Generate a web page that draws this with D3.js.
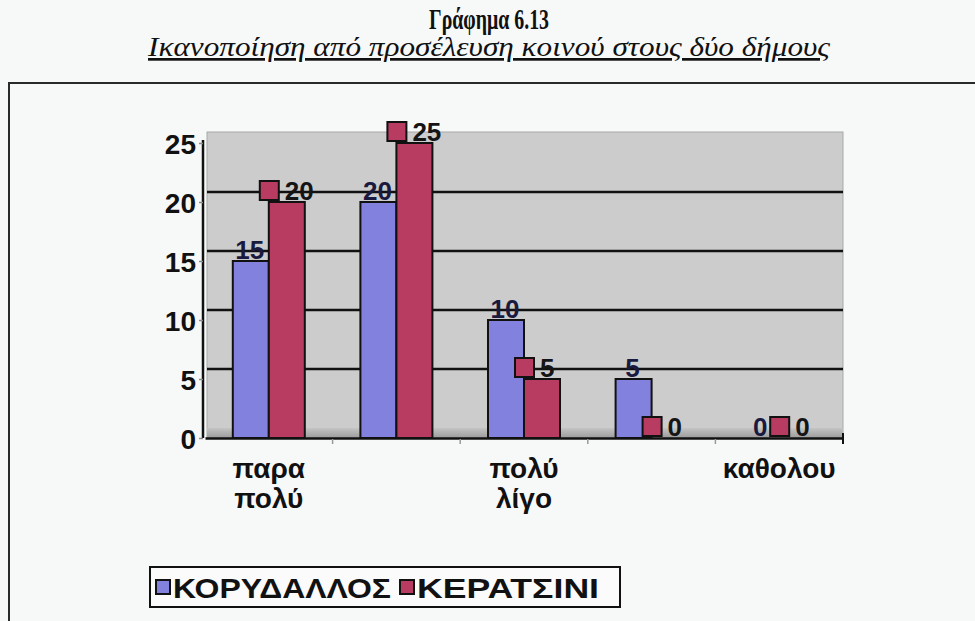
<!DOCTYPE html>
<html>
<head>
<meta charset="utf-8">
<script src="https://cdn.jsdelivr.net/npm/d3@7/dist/d3.min.js"></script>
<style>
  html, body { margin: 0; padding: 0; background: #f7f9f9; }
  svg { display: block; }
</style>
</head>
<body>
<svg id="chart" width="975" height="621"></svg>
<script>
// ---- data ----
const categories = ["παρα πολύ", "αρκετά", "πολύ λίγο", "λίγο", "καθολου"];
const shownLabels = ["παρα πολύ", "", "πολύ λίγο", "", "καθολου"];
const seriesNames = ["ΚΟΡΥΔΑΛΛΟΣ", "ΚΕΡΑΤΣΙΝΙ"];
const korydallos = [15, 20, 10, 5, 0];
const keratsini = [20, 25, 5, 0, 0];
const yTicks = [0, 5, 10, 15, 20, 25];
const seriesColors = ["#8282de", "#b83c62"];
const title = "Γράφημα 6.13";
const subtitle = "Ικανοποίηση από προσέλευση κοινού στους δύο δήμους";

const seriesValues = [korydallos, keratsini];
const rows = categories.map((c, i) => ({cat: c, values: seriesValues.map((s, k) => ({series: seriesNames[k], k, value: s[i]}))}));

const svg = d3.select("#chart");
const W = 975, H = 621;
const depth = 10;
const SANS = "Liberation Sans, Arial, sans-serif";
const SERIF = "Liberation Serif, Times New Roman, serif";

const x = d3.scaleBand().domain(categories).range([205, 843]).paddingInner(0).paddingOuter(0);
const y = d3.scaleLinear().domain([0, 25]).range([438, 143]);
const barW = 36;
const xs = d3.scaleBand().domain(seriesNames).range([0, barW * 2]);

// Titles
svg.append("text").attr("x", 489).attr("y", 29).attr("text-anchor", "middle")
  .attr("font-family", SERIF).attr("font-weight", "bold")
  .attr("font-size", 29).attr("fill", "#111")
  .attr("textLength", 120).attr("lengthAdjust", "spacingAndGlyphs").text(title);
svg.append("text").attr("x", 489).attr("y", 56).attr("text-anchor", "middle")
  .attr("font-family", SERIF).attr("font-style", "italic")
  .attr("font-size", 27).attr("fill", "#111").attr("text-decoration", "underline")
  .attr("textLength", 682).attr("lengthAdjust", "spacingAndGlyphs").text(subtitle);

// Outer frame (top + left)
svg.append("path").attr("d", `M9,${H} L9,83 L${W},83`).attr("fill", "none").attr("stroke", "#2a2a2a").attr("stroke-width", 2);

// Back wall
const wallTop = y(25) - depth - 1;
const [x0, x1] = x.range();
svg.append("rect").attr("x", x0 + 2).attr("y", wallTop).attr("width", x1 - x0 - 2).attr("height", y(0) - wallTop)
  .attr("fill", "#cdcccd").attr("stroke", "#a8a8a8").attr("stroke-width", 1);
// Floor band
const fg = svg.append("defs").append("linearGradient").attr("id", "floor").attr("x1", 0).attr("x2", 0).attr("y1", 0).attr("y2", 1);
fg.append("stop").attr("offset", "0%").attr("stop-color", "#c4c4c4");
fg.append("stop").attr("offset", "100%").attr("stop-color", "#9c9c9c");
svg.append("rect").attr("x", x0 + 2).attr("y", y(0) - depth).attr("width", x1 - x0 - 2).attr("height", depth).attr("fill", "url(#floor)");

// Gridlines
svg.append("g").selectAll("line").data(yTicks.filter(t => t > 0 && t < 25)).join("line")
  .attr("x1", x0 + 2).attr("x2", x1).attr("y1", d => y(d) - depth).attr("y2", d => y(d) - depth)
  .attr("stroke", "#111").attr("stroke-width", 2.5);

// Y axis
const yAxis = d3.axisLeft(y).tickValues(yTicks).tickSize(4).tickPadding(3);
const ya = svg.append("g").attr("transform", "translate(203,0)").call(yAxis);
ya.select(".domain").attr("stroke", "#111").attr("stroke-width", 2.5).attr("d", `M0,${y(25) - 3}V${y(0)}`);
ya.selectAll(".tick line").attr("stroke", "#888").attr("stroke-width", 1.5);
ya.selectAll(".tick text").attr("font-family", SANS).attr("font-weight", "bold")
  .attr("font-size", 28).attr("fill", "#111").attr("dy", "0.36em");

// X axis
const xAxis = d3.axisBottom(x).tickSize(0).tickFormat(() => "");
const xa = svg.append("g").attr("transform", `translate(0,${y(0)})`).call(xAxis);
xa.select(".domain").attr("stroke", "#111").attr("stroke-width", 2.5);
svg.append("g").selectAll("line").data(categories.slice(1)).join("line")
  .attr("x1", d => x(d)).attr("x2", d => x(d)).attr("y1", y(0) + 1).attr("y2", y(0) + 6)
  .attr("stroke", "#999").attr("stroke-width", 1.5);
svg.append("line").attr("x1", x1).attr("x2", x1).attr("y1", y(0) - 5).attr("y2", y(0) + 6).attr("stroke", "#111").attr("stroke-width", 2);

// Category labels
const cl = svg.append("g").selectAll("text").data(categories.map((c, i) => ({c, label: shownLabels[i]}))).join("text")
  .attr("text-anchor", "middle").attr("font-family", SANS).attr("font-weight", "bold")
  .attr("font-size", 28).attr("fill", "#111")
  .attr("transform", d => `translate(${x(d.c) + x.bandwidth() / 2},478)`);
cl.each(function(d) {
  const parts = d.label ? d.label.split(" ") : [];
  d3.select(this).selectAll("tspan").data(parts).join("tspan").attr("x", 0).attr("dy", (p, i) => i === 0 ? 0 : 30).text(p => p);
});

// Bars
const groups = svg.append("g").selectAll("g").data(rows).join("g")
  .attr("transform", d => `translate(${x(d.cat) + x.bandwidth() / 2 - barW},0)`);
groups.selectAll("rect").data(d => d.values).join("rect")
  .attr("x", d => xs(d.series)).attr("width", xs.bandwidth())
  .attr("y", d => y(d.value)).attr("height", d => Math.max(0, y(0) - y(d.value)))
  .attr("fill", d => seriesColors[d.k]).attr("stroke", "#111").attr("stroke-width", 2);

// Data labels
groups.each(function(row) {
  const g = d3.select(this);
  row.values.forEach(v => {
    const cx = xs(v.series) + xs.bandwidth() / 2;
    if (v.k === 0) {
      g.append("text").attr("x", cx - 1).attr("y", y(v.value) - 2).attr("text-anchor", "middle")
        .attr("font-family", SANS).attr("font-weight", "bold").attr("font-size", 26)
        .attr("fill", "#1a1a40").text(v.value);
    } else {
      g.append("rect").attr("x", cx - 27).attr("y", y(v.value) - 21).attr("width", 19).attr("height", 19)
        .attr("fill", seriesColors[1]).attr("stroke", "#111").attr("stroke-width", 2);
      g.append("text").attr("x", cx - 2).attr("y", y(v.value) - 2).attr("text-anchor", "start")
        .attr("font-family", SANS).attr("font-weight", "bold").attr("font-size", 26)
        .attr("fill", "#151515").text(v.value);
    }
  });
});

// Legend
const lg = svg.append("g");
lg.append("rect").attr("x", 150).attr("y", 567).attr("width", 470).attr("height", 40)
  .attr("fill", "#fbfbfb").attr("stroke", "#111").attr("stroke-width", 2);
const legendX = [156, 400];
const legendW = [218, 182];
seriesNames.forEach((s, k) => {
  lg.append("rect").attr("x", legendX[k]).attr("y", 580).attr("width", 14).attr("height", 14)
    .attr("fill", seriesColors[k]).attr("stroke", "#111").attr("stroke-width", 2);
  lg.append("text").attr("x", legendX[k] + 17).attr("y", 598)
    .attr("font-family", SANS).attr("font-weight", "bold").attr("font-size", 28)
    .attr("textLength", legendW[k]).attr("lengthAdjust", "spacingAndGlyphs")
    .attr("fill", "#111").text(s);
});
</script>
</body>
</html>
